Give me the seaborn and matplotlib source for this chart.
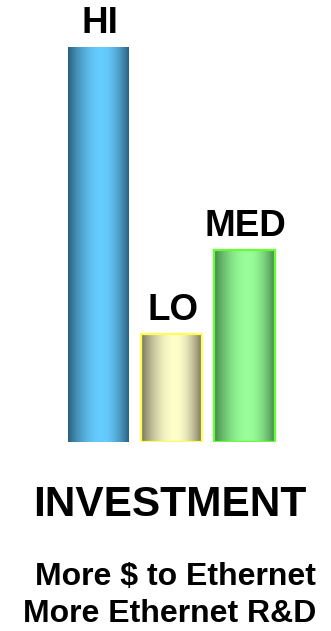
import numpy as np
import pandas as pd
import matplotlib
matplotlib.use("Agg")
import matplotlib.pyplot as plt
import seaborn as sns
from matplotlib.colors import to_rgb

categories = ["HI", "LO", "MED"]
values = [100, 27.3, 48.6]
light_colors = ["#66ccff", "#ffffcc", "#99ff99"]
dark_colors = ["#2b5f7c", "#77755c", "#44864a"]
edge_colors = ["none", "#ffff55", "#66ff33"]
title = "INVESTMENT"
subtitle_lines = ["More $ to Ethernet", "More Ethernet R&D"]

sns.set_theme(style="white")
plt.rcParams["font.family"] = ["Liberation Sans", "DejaVu Sans"]

W, H = 331, 631
fig = plt.figure(figsize=(W / 100, H / 100), dpi=100)
fig.patch.set_facecolor("white")

ax_bottom_px = 442
ax = fig.add_axes([0, 1 - ax_bottom_px / H, 1, ax_bottom_px / H])

df = pd.DataFrame({"cat": categories, "val": values})
sns.barplot(data=df, x="cat", y="val", hue="cat", palette=light_colors,
            width=0.83, legend=False, ax=ax, saturation=1)

# cylindrical gradient profile
xs = np.linspace(0, 1, 200)
peak = 0.56
prof = np.where(xs < peak, np.sin(xs / peak * np.pi / 2),
                np.sin((1 - xs) / (1 - peak) * np.pi / 2))
prof = prof ** 0.9

for i, patch in enumerate(ax.patches):
    x0, y0 = patch.get_x(), patch.get_y()
    w, h = patch.get_width(), patch.get_height()
    d = np.array(to_rgb(dark_colors[i]))
    l = np.array(to_rgb(light_colors[i]))
    grad = d[None, :] + (l - d)[None, :] * prof[:, None]
    grad = grad[None, :, :]
    im = ax.imshow(grad, extent=[x0, x0 + w, y0, y0 + h], aspect="auto",
                   zorder=2, interpolation="bilinear")
    im.set_clip_path(patch)
    patch.set_facecolor("none")
    patch.set_zorder(3)
    if edge_colors[i] == "none":
        patch.set_linewidth(0)
    else:
        patch.set_edgecolor(edge_colors[i])
        patch.set_linewidth(1.6)
    ax.annotate(categories[i], (x0 + w / 2 + 0.02, y0 + h), xytext=(0, 4.5),
                textcoords="offset points", ha="center", va="bottom",
                fontsize=26.5, fontweight="bold", color="black")

unit = 73.0
ax.set_xlim(-98 / unit, 2 + (W - 244.5) / unit)
ax.set_ylim(0, 100 * ax_bottom_px / (ax_bottom_px - 47))
ax.axis("off")

fig.text(170 / W, 1 - 505 / H, title, ha="center", va="center",
         fontsize=30.5, fontweight="bold", color="black")
fig.text(316 / W, 1 - 577 / H, subtitle_lines[0], ha="right", va="center",
         fontsize=23, fontweight="bold", color="black")
fig.text(316 / W, 1 - 614 / H, subtitle_lines[1], ha="right", va="center",
         fontsize=23, fontweight="bold", color="black")

fig.savefig("out.png", dpi=100, facecolor="white")
